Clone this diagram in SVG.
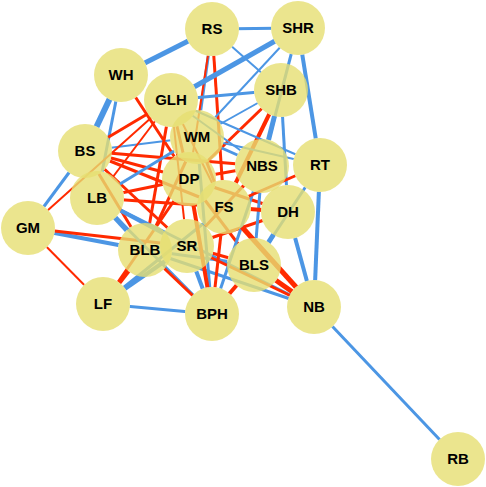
<svg xmlns="http://www.w3.org/2000/svg" width="486" height="487" viewBox="0 0 486 487">
<style>
.b{stroke:#4c96e4;fill:none}
.r{stroke:#ff2a00;fill:none}
.node circle{fill:#e6df72;opacity:0.8}
.node text{font-family:"Liberation Sans",Arial,Helvetica,sans-serif;font-weight:bold;font-size:15px;text-anchor:middle;fill:#000}
</style>
<defs>
<mask id="m-RS" maskUnits="userSpaceOnUse" x="0" y="0" width="486" height="487"><rect width="486" height="487" fill="#fff"/><circle cx="212" cy="29" r="27" fill="#000"/></mask>
<mask id="m-SHR" maskUnits="userSpaceOnUse" x="0" y="0" width="486" height="487"><rect width="486" height="487" fill="#fff"/><circle cx="298" cy="28" r="27" fill="#000"/></mask>
<mask id="m-WH" maskUnits="userSpaceOnUse" x="0" y="0" width="486" height="487"><rect width="486" height="487" fill="#fff"/><circle cx="121" cy="75" r="27" fill="#000"/></mask>
<mask id="m-GLH" maskUnits="userSpaceOnUse" x="0" y="0" width="486" height="487"><rect width="486" height="487" fill="#fff"/><circle cx="171" cy="100" r="27" fill="#000"/></mask>
<mask id="m-SHB" maskUnits="userSpaceOnUse" x="0" y="0" width="486" height="487"><rect width="486" height="487" fill="#fff"/><circle cx="281" cy="90" r="27" fill="#000"/></mask>
<mask id="m-WM" maskUnits="userSpaceOnUse" x="0" y="0" width="486" height="487"><rect width="486" height="487" fill="#fff"/><circle cx="197" cy="137" r="27" fill="#000"/></mask>
<mask id="m-BS" maskUnits="userSpaceOnUse" x="0" y="0" width="486" height="487"><rect width="486" height="487" fill="#fff"/><circle cx="85" cy="151" r="27" fill="#000"/></mask>
<mask id="m-NBS" maskUnits="userSpaceOnUse" x="0" y="0" width="486" height="487"><rect width="486" height="487" fill="#fff"/><circle cx="262" cy="166" r="27" fill="#000"/></mask>
<mask id="m-RT" maskUnits="userSpaceOnUse" x="0" y="0" width="486" height="487"><rect width="486" height="487" fill="#fff"/><circle cx="320" cy="165" r="27" fill="#000"/></mask>
<mask id="m-DP" maskUnits="userSpaceOnUse" x="0" y="0" width="486" height="487"><rect width="486" height="487" fill="#fff"/><circle cx="189" cy="179" r="27" fill="#000"/></mask>
<mask id="m-LB" maskUnits="userSpaceOnUse" x="0" y="0" width="486" height="487"><rect width="486" height="487" fill="#fff"/><circle cx="97" cy="198" r="27" fill="#000"/></mask>
<mask id="m-FS" maskUnits="userSpaceOnUse" x="0" y="0" width="486" height="487"><rect width="486" height="487" fill="#fff"/><circle cx="224" cy="207" r="27" fill="#000"/></mask>
<mask id="m-DH" maskUnits="userSpaceOnUse" x="0" y="0" width="486" height="487"><rect width="486" height="487" fill="#fff"/><circle cx="288" cy="212" r="27" fill="#000"/></mask>
<mask id="m-GM" maskUnits="userSpaceOnUse" x="0" y="0" width="486" height="487"><rect width="486" height="487" fill="#fff"/><circle cx="28" cy="228" r="27" fill="#000"/></mask>
<mask id="m-SR" maskUnits="userSpaceOnUse" x="0" y="0" width="486" height="487"><rect width="486" height="487" fill="#fff"/><circle cx="187" cy="246" r="27" fill="#000"/></mask>
<mask id="m-BLB" maskUnits="userSpaceOnUse" x="0" y="0" width="486" height="487"><rect width="486" height="487" fill="#fff"/><circle cx="145" cy="250" r="27" fill="#000"/></mask>
<mask id="m-BLS" maskUnits="userSpaceOnUse" x="0" y="0" width="486" height="487"><rect width="486" height="487" fill="#fff"/><circle cx="254" cy="265" r="27" fill="#000"/></mask>
<mask id="m-LF" maskUnits="userSpaceOnUse" x="0" y="0" width="486" height="487"><rect width="486" height="487" fill="#fff"/><circle cx="103" cy="304" r="27" fill="#000"/></mask>
<mask id="m-BPH" maskUnits="userSpaceOnUse" x="0" y="0" width="486" height="487"><rect width="486" height="487" fill="#fff"/><circle cx="212" cy="314" r="27" fill="#000"/></mask>
<mask id="m-NB" maskUnits="userSpaceOnUse" x="0" y="0" width="486" height="487"><rect width="486" height="487" fill="#fff"/><circle cx="314" cy="307" r="27" fill="#000"/></mask>
<mask id="m-RB" maskUnits="userSpaceOnUse" x="0" y="0" width="486" height="487"><rect width="486" height="487" fill="#fff"/><circle cx="458" cy="459" r="27" fill="#000"/></mask>
</defs>
<g id="connectors">
<g mask="url(#m-RS)">
<line class="b" stroke-width="3" x1="212" y1="29" x2="298" y2="28" mask="url(#m-SHR)"/>
<line class="b" stroke-width="5" x1="212" y1="29" x2="121" y2="75" mask="url(#m-WH)"/>
<line class="b" stroke-width="2" x1="212" y1="29" x2="281" y2="90" mask="url(#m-SHB)"/>
<line class="b" stroke-width="3" x1="212" y1="29" x2="197" y2="137" mask="url(#m-WM)"/>
<line class="r" stroke-width="3" x1="212" y1="29" x2="224" y2="207" mask="url(#m-FS)"/>
<line class="r" stroke-width="2" x1="212" y1="29" x2="189" y2="179" mask="url(#m-DP)"/>
</g>
<g mask="url(#m-SHR)">
<line class="b" stroke-width="5" x1="298" y1="28" x2="171" y2="100" mask="url(#m-GLH)"/>
<line class="b" stroke-width="2" x1="298" y1="28" x2="197" y2="137" mask="url(#m-WM)"/>
<line class="b" stroke-width="3" x1="298" y1="28" x2="262" y2="166" mask="url(#m-NBS)"/>
<line class="b" stroke-width="4" x1="298" y1="28" x2="320" y2="165" mask="url(#m-RT)"/>
</g>
<g mask="url(#m-SHB)">
<line class="b" stroke-width="3" x1="281" y1="90" x2="171" y2="100" mask="url(#m-GLH)"/>
<line class="b" stroke-width="2" x1="281" y1="90" x2="197" y2="137" mask="url(#m-WM)"/>
<line class="b" stroke-width="5" x1="281" y1="90" x2="262" y2="166" mask="url(#m-NBS)"/>
<line class="b" stroke-width="3" x1="281" y1="90" x2="288" y2="212" mask="url(#m-DH)"/>
<line class="r" stroke-width="4" x1="281" y1="90" x2="224" y2="207" mask="url(#m-FS)"/>
<line class="r" stroke-width="3" x1="281" y1="90" x2="189" y2="179" mask="url(#m-DP)"/>
</g>
<g mask="url(#m-WH)">
<line class="b" stroke-width="6" x1="121" y1="75" x2="85" y2="151" mask="url(#m-BS)"/>
<line class="b" stroke-width="3" x1="121" y1="75" x2="97" y2="198" mask="url(#m-LB)"/>
<line class="r" stroke-width="3" x1="121" y1="75" x2="189" y2="179" mask="url(#m-DP)"/>
</g>
<g mask="url(#m-BS)">
<line class="b" stroke-width="2" x1="85" y1="151" x2="197" y2="137" mask="url(#m-WM)"/>
<line class="b" stroke-width="3" x1="85" y1="151" x2="28" y2="228" mask="url(#m-GM)"/>
<line class="r" stroke-width="3" x1="85" y1="151" x2="171" y2="100" mask="url(#m-GLH)"/>
<line class="r" stroke-width="3" x1="85" y1="151" x2="189" y2="179" mask="url(#m-DP)"/>
<line class="r" stroke-width="3" x1="85" y1="151" x2="224" y2="207" mask="url(#m-FS)"/>
<line class="r" stroke-width="3" x1="85" y1="151" x2="187" y2="246" mask="url(#m-SR)"/>
<line class="r" stroke-width="3" x1="85" y1="151" x2="145" y2="250" mask="url(#m-BLB)"/>
<line class="r" stroke-width="3" x1="85" y1="151" x2="262" y2="166" mask="url(#m-NBS)"/>
</g>
<g mask="url(#m-GLH)">
<line class="b" stroke-width="2" x1="171" y1="100" x2="320" y2="165" mask="url(#m-RT)"/>
<line class="b" stroke-width="2" x1="171" y1="100" x2="262" y2="166" mask="url(#m-NBS)"/>
<line class="r" stroke-width="3" x1="171" y1="100" x2="189" y2="179" mask="url(#m-DP)"/>
<line class="r" stroke-width="2" x1="171" y1="100" x2="187" y2="246" mask="url(#m-SR)"/>
<line class="r" stroke-width="2" x1="171" y1="100" x2="97" y2="198" mask="url(#m-LB)"/>
<line class="r" stroke-width="3" x1="171" y1="100" x2="145" y2="250" mask="url(#m-BLB)"/>
<line class="r" stroke-width="2" x1="171" y1="100" x2="224" y2="207" mask="url(#m-FS)"/>
</g>
<g mask="url(#m-WM)">
<line class="b" stroke-width="3" x1="197" y1="137" x2="262" y2="166" mask="url(#m-NBS)"/>
<line class="b" stroke-width="2" x1="197" y1="137" x2="320" y2="165" mask="url(#m-RT)"/>
<line class="b" stroke-width="3" x1="197" y1="137" x2="212" y2="314" mask="url(#m-BPH)"/>
<line class="r" stroke-width="3" x1="197" y1="137" x2="224" y2="207" mask="url(#m-FS)"/>
<line class="r" stroke-width="3" x1="197" y1="137" x2="145" y2="250" mask="url(#m-BLB)"/>
</g>
<g mask="url(#m-RT)">
<line class="b" stroke-width="4" x1="320" y1="165" x2="314" y2="307" mask="url(#m-NB)"/>
<line class="b" stroke-width="3" x1="320" y1="165" x2="254" y2="265" mask="url(#m-BLS)"/>
</g>
<g mask="url(#m-DH)">
<line class="b" stroke-width="4" x1="288" y1="212" x2="314" y2="307" mask="url(#m-NB)"/>
<line class="b" stroke-width="5" x1="288" y1="212" x2="254" y2="265" mask="url(#m-BLS)"/>
</g>
<g mask="url(#m-NB)">
<line class="b" stroke-width="3" x1="314" y1="307" x2="458" y2="459" mask="url(#m-RB)"/>
</g>
<g mask="url(#m-GM)">
<line class="b" stroke-width="4" x1="28" y1="228" x2="145" y2="250" mask="url(#m-BLB)"/>
<line class="r" stroke-width="2" x1="28" y1="228" x2="171" y2="100" mask="url(#m-GLH)"/>
<line class="r" stroke-width="3" x1="28" y1="228" x2="187" y2="246" mask="url(#m-SR)"/>
<line class="r" stroke-width="2" x1="28" y1="228" x2="103" y2="304" mask="url(#m-LF)"/>
</g>
<g mask="url(#m-LF)">
<line class="b" stroke-width="3" x1="103" y1="304" x2="212" y2="314" mask="url(#m-BPH)"/>
<line class="b" stroke-width="4" x1="103" y1="304" x2="187" y2="246" mask="url(#m-SR)"/>
<line class="b" stroke-width="3" x1="103" y1="304" x2="224" y2="207" mask="url(#m-FS)"/>
<line class="r" stroke-width="4" x1="103" y1="304" x2="145" y2="250" mask="url(#m-BLB)"/>
<line class="r" stroke-width="3" x1="103" y1="304" x2="189" y2="179" mask="url(#m-DP)"/>
</g>
<g mask="url(#m-LB)">
<line class="b" stroke-width="3" x1="97" y1="198" x2="197" y2="137" mask="url(#m-WM)"/>
<line class="b" stroke-width="5" x1="97" y1="198" x2="145" y2="250" mask="url(#m-BLB)"/>
<line class="b" stroke-width="4" x1="97" y1="198" x2="187" y2="246" mask="url(#m-SR)"/>
<line class="b" stroke-width="3" x1="97" y1="198" x2="212" y2="314" mask="url(#m-BPH)"/>
<line class="b" stroke-width="3" x1="97" y1="198" x2="314" y2="307" mask="url(#m-NB)"/>
<line class="r" stroke-width="3" x1="97" y1="198" x2="189" y2="179" mask="url(#m-DP)"/>
<line class="r" stroke-width="3" x1="97" y1="198" x2="224" y2="207" mask="url(#m-FS)"/>
</g>
<g mask="url(#m-BLB)">
<line class="b" stroke-width="3" x1="145" y1="250" x2="314" y2="307" mask="url(#m-NB)"/>
<line class="b" stroke-width="3" x1="145" y1="250" x2="254" y2="265" mask="url(#m-BLS)"/>
<line class="r" stroke-width="3" x1="145" y1="250" x2="212" y2="314" mask="url(#m-BPH)"/>
</g>
<g mask="url(#m-SR)">
<line class="b" stroke-width="4" x1="187" y1="246" x2="212" y2="314" mask="url(#m-BPH)"/>
<line class="r" stroke-width="3" x1="187" y1="246" x2="314" y2="307" mask="url(#m-NB)"/>
<line class="r" stroke-width="3" x1="187" y1="246" x2="254" y2="265" mask="url(#m-BLS)"/>
<line class="r" stroke-width="3" x1="187" y1="246" x2="288" y2="212" mask="url(#m-DH)"/>
<line class="r" stroke-width="3" x1="187" y1="246" x2="262" y2="166" mask="url(#m-NBS)"/>
</g>
<g mask="url(#m-DP)">
<line class="r" stroke-width="3" x1="189" y1="179" x2="262" y2="166" mask="url(#m-NBS)"/>
<line class="r" stroke-width="3" x1="189" y1="179" x2="288" y2="212" mask="url(#m-DH)"/>
<line class="r" stroke-width="3" x1="189" y1="179" x2="254" y2="265" mask="url(#m-BLS)"/>
<line class="r" stroke-width="4" x1="189" y1="179" x2="212" y2="314" mask="url(#m-BPH)"/>
</g>
<g mask="url(#m-NBS)">
<line class="b" stroke-width="3" x1="262" y1="166" x2="212" y2="314" mask="url(#m-BPH)"/>
<line class="b" stroke-width="3" x1="262" y1="166" x2="254" y2="265" mask="url(#m-BLS)"/>
</g>
<g mask="url(#m-FS)">
<line class="r" stroke-width="3" x1="224" y1="207" x2="262" y2="166" mask="url(#m-NBS)"/>
<line class="r" stroke-width="4" x1="224" y1="207" x2="288" y2="212" mask="url(#m-DH)"/>
<line class="r" stroke-width="5" x1="224" y1="207" x2="314" y2="307" mask="url(#m-NB)"/>
<line class="r" stroke-width="3" x1="224" y1="207" x2="212" y2="314" mask="url(#m-BPH)"/>
<line class="r" stroke-width="3" x1="224" y1="207" x2="320" y2="165" mask="url(#m-RT)"/>
</g>
<g mask="url(#m-BLS)">
<line class="r" stroke-width="4" x1="254" y1="265" x2="212" y2="314" mask="url(#m-BPH)"/>
<line class="r" stroke-width="5" x1="254" y1="265" x2="314" y2="307" mask="url(#m-NB)"/>
</g>
</g>
<g id="nodes">
<g id="RS" class="node"><circle cx="212" cy="29" r="27"/><text x="212" y="34">RS</text></g>
<g id="SHR" class="node"><circle cx="298" cy="28" r="27"/><text x="298" y="33">SHR</text></g>
<g id="WH" class="node"><circle cx="121" cy="75" r="27"/><text x="121" y="80">WH</text></g>
<g id="GLH" class="node"><circle cx="171" cy="100" r="27"/><text x="171" y="105">GLH</text></g>
<g id="SHB" class="node"><circle cx="281" cy="90" r="27"/><text x="281" y="95">SHB</text></g>
<g id="WM" class="node"><circle cx="197" cy="137" r="27"/><text x="197" y="142">WM</text></g>
<g id="BS" class="node"><circle cx="85" cy="151" r="27"/><text x="85" y="156">BS</text></g>
<g id="NBS" class="node"><circle cx="262" cy="166" r="27"/><text x="262" y="171">NBS</text></g>
<g id="RT" class="node"><circle cx="320" cy="165" r="27"/><text x="320" y="170">RT</text></g>
<g id="DP" class="node"><circle cx="189" cy="179" r="27"/><text x="189" y="184">DP</text></g>
<g id="LB" class="node"><circle cx="97" cy="198" r="27"/><text x="97" y="203">LB</text></g>
<g id="FS" class="node"><circle cx="224" cy="207" r="27"/><text x="224" y="212">FS</text></g>
<g id="DH" class="node"><circle cx="288" cy="212" r="27"/><text x="288" y="217">DH</text></g>
<g id="GM" class="node"><circle cx="28" cy="228" r="27"/><text x="28" y="233">GM</text></g>
<g id="SR" class="node"><circle cx="187" cy="246" r="27"/><text x="187" y="251">SR</text></g>
<g id="BLB" class="node"><circle cx="145" cy="250" r="27"/><text x="145" y="255">BLB</text></g>
<g id="BLS" class="node"><circle cx="254" cy="265" r="27"/><text x="254" y="270">BLS</text></g>
<g id="LF" class="node"><circle cx="103" cy="304" r="27"/><text x="103" y="309">LF</text></g>
<g id="BPH" class="node"><circle cx="212" cy="314" r="27"/><text x="212" y="319">BPH</text></g>
<g id="NB" class="node"><circle cx="314" cy="307" r="27"/><text x="314" y="312">NB</text></g>
<g id="RB" class="node"><circle cx="458" cy="459" r="27"/><text x="458" y="464">RB</text></g>
</g>
</svg>
